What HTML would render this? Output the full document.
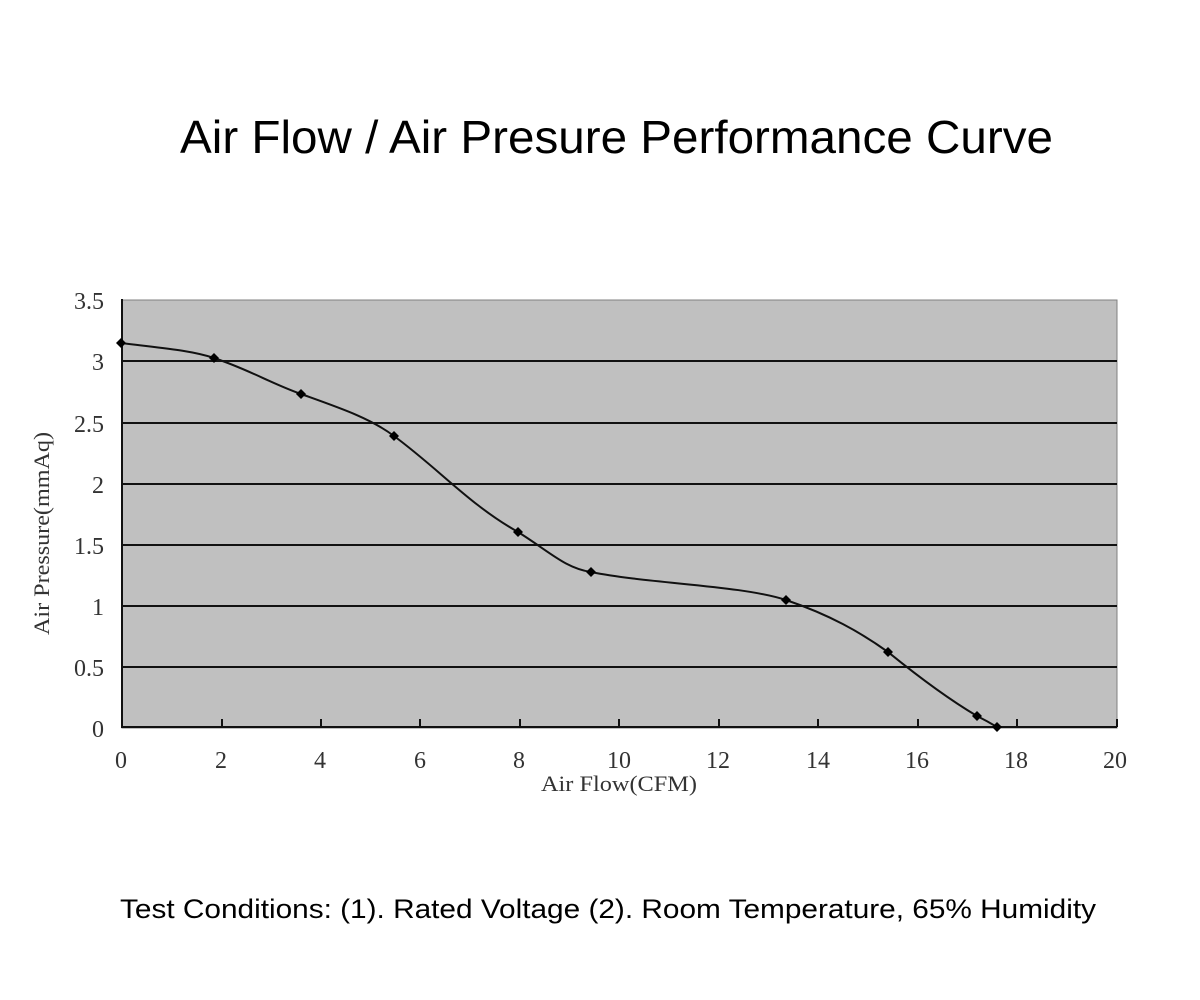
<!DOCTYPE html>
<html><head><meta charset="utf-8"><style>
html,body{margin:0;padding:0;background:#fff;width:1200px;height:1000px;overflow:hidden}
</style></head><body>
<svg width="1200" height="1000" xmlns="http://www.w3.org/2000/svg">
<rect width="1200" height="1000" fill="#fff"/>
<text x="180" y="153" font-family="Liberation Sans, sans-serif" font-size="46" textLength="873" lengthAdjust="spacingAndGlyphs" fill="#000">Air Flow / Air Presure Performance Curve</text>
<rect x="122" y="300" width="995" height="428" fill="#c0c0c0" stroke="#808080" stroke-width="1"/>
<g stroke="#111" stroke-width="2">
<line x1="122" y1="361" x2="1117" y2="361"/>
<line x1="122" y1="423" x2="1117" y2="423"/>
<line x1="122" y1="484" x2="1117" y2="484"/>
<line x1="122" y1="545" x2="1117" y2="545"/>
<line x1="122" y1="606" x2="1117" y2="606"/>
<line x1="122" y1="667" x2="1117" y2="667"/>
<line x1="122" y1="299" x2="122" y2="728"/>
<line x1="121" y1="727" x2="1117" y2="727"/>
<line x1="222" y1="719" x2="222" y2="727"/>
<line x1="321" y1="719" x2="321" y2="727"/>
<line x1="420" y1="719" x2="420" y2="727"/>
<line x1="520" y1="719" x2="520" y2="727"/>
<line x1="619" y1="719" x2="619" y2="727"/>
<line x1="719" y1="719" x2="719" y2="727"/>
<line x1="818" y1="719" x2="818" y2="727"/>
<line x1="918" y1="719" x2="918" y2="727"/>
<line x1="1017" y1="719" x2="1017" y2="727"/>
<line x1="1117" y1="719" x2="1117" y2="727"/>
</g>
<g font-family="Liberation Serif, serif" font-size="24" fill="#333" text-anchor="end">
<text x="104" y="309">3.5</text><text x="104" y="370">3</text><text x="104" y="432">2.5</text>
<text x="104" y="493">2</text><text x="104" y="554">1.5</text><text x="104" y="615">1</text>
<text x="104" y="676">0.5</text><text x="104" y="737">0</text>
</g>
<g font-family="Liberation Serif, serif" font-size="24" fill="#333" text-anchor="middle">
<text x="121" y="768">0</text><text x="221" y="768">2</text><text x="320" y="768">4</text>
<text x="420" y="768">6</text><text x="519" y="768">8</text><text x="619" y="768">10</text>
<text x="718" y="768">12</text><text x="818" y="768">14</text><text x="917" y="768">16</text>
<text x="1016" y="768">18</text><text x="1115" y="768">20</text>
</g>
<g font-family="Liberation Serif, serif" font-size="22" fill="#333">
<text x="541" y="791" textLength="156" lengthAdjust="spacingAndGlyphs">Air Flow(CFM)</text>
<text transform="translate(49,635) rotate(-90)" textLength="203" lengthAdjust="spacingAndGlyphs">Air Pressure(mmAq)</text>
</g>
<path d="M121,343 C160,348 190,350 214,358 C250,370 270,383 301,394 C340,408 370,418 394,436 C440,470 470,505 518,532 C550,552 565,568 591,572 C650,584 740,585 786,600 C830,615 860,632 888,652 C920,678 950,700 977,716 C985,720 992,724 997,727" fill="none" stroke="#111" stroke-width="2"/>
<g fill="#000">
<path d="M121,338 l5,5 -5,5 -5,-5z"/><path d="M214,353 l5,5 -5,5 -5,-5z"/>
<path d="M301,389 l5,5 -5,5 -5,-5z"/><path d="M394,431 l5,5 -5,5 -5,-5z"/>
<path d="M518,527 l5,5 -5,5 -5,-5z"/><path d="M591,567 l5,5 -5,5 -5,-5z"/>
<path d="M786,595 l5,5 -5,5 -5,-5z"/><path d="M888,647 l5,5 -5,5 -5,-5z"/>
<path d="M977,711 l5,5 -5,5 -5,-5z"/><path d="M997,722 l5,5 -5,5 -5,-5z"/>
</g>
<text x="120" y="918" font-family="Liberation Sans, sans-serif" font-size="27" textLength="976" lengthAdjust="spacingAndGlyphs" fill="#000">Test Conditions:  (1). Rated Voltage  (2). Room Temperature, 65% Humidity</text>
</svg>
</body></html>
